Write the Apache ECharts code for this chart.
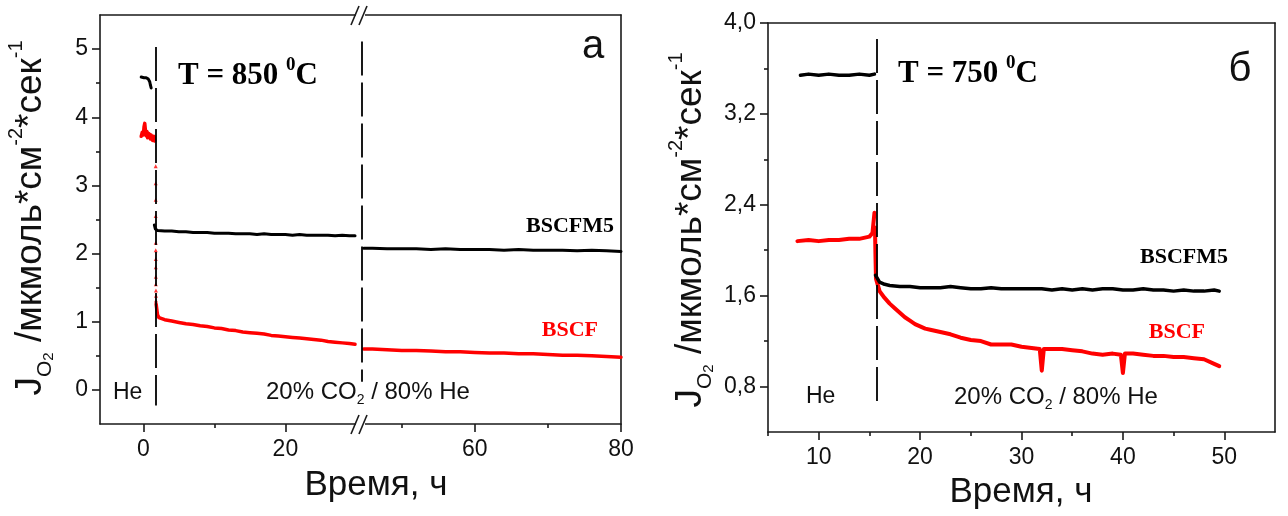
<!DOCTYPE html>
<html>
<head>
<meta charset="utf-8">
<script src="https://cdn.jsdelivr.net/npm/echarts@6/dist/echarts.min.js"></script>
<style>
  html, body { margin: 0; padding: 0; background: #ffffff; }
  #chart { width: 1288px; height: 516px; }
</style>
</head>
<body>
<div id="chart"></div>
<script>
// ---- Panel "а": oxygen flux at 850 °C, time axis broken between ~30 h and ~44 h ----
const x850Left = [-6.1, 30.5];
const x850Right = [44.3, 80];
const y850 = [-0.5, 5.5];
const x850LeftTicks = [0, 20];
const x850LeftMinor = [10];
const x850RightTicks = [60, 80];
const x850RightMinor = [50, 70];
const y850Ticks = [0, 1, 2, 3, 4, 5];
const y850Minor = [0.5, 1.5, 2.5, 3.5, 4.5];

const bscfm5_850_he = [[-0.3, 4.59], [0.1, 4.58], [0.4, 4.58], [0.7, 4.56], [0.9, 4.52], [1.0, 4.47], [1.1, 4.43]];
const bscfm5_850_a = [[1.55, 2.42], [1.7, 2.36], [2, 2.34], [3, 2.33], [4, 2.33], [5, 2.32], [6, 2.32], [7, 2.31],
  [8, 2.31], [9, 2.31], [10, 2.30], [11, 2.30], [12, 2.30], [13, 2.29], [14, 2.29], [15, 2.29], [16, 2.28],
  [17, 2.29], [18, 2.28], [19, 2.28], [20, 2.28], [21, 2.27], [22, 2.28], [23, 2.27], [24, 2.27], [25, 2.27],
  [26, 2.27], [27, 2.26], [28, 2.27], [29, 2.26], [29.8, 2.26]];
const bscfm5_850_b = [[44.8, 2.08], [46, 2.08], [48, 2.07], [50, 2.07], [52, 2.07], [54, 2.06], [56, 2.07],
  [58, 2.06], [60, 2.06], [62, 2.06], [64, 2.05], [66, 2.06], [68, 2.05], [70, 2.05], [72, 2.05], [74, 2.04],
  [76, 2.05], [78, 2.04], [80, 2.03]];

const bscf_850_he = [[-0.3, 3.72], [-0.15, 3.78], [0.0, 3.74], [0.1, 3.86], [0.2, 3.91], [0.3, 3.8], [0.4, 3.73],
  [0.5, 3.79], [0.6, 3.7], [0.8, 3.76], [1.0, 3.68], [1.1, 3.74], [1.3, 3.66], [1.5, 3.72], [1.6, 3.65]];
const bscf_850_drop = [[1.74, 3.28], [1.74, 3.03], [1.74, 2.79], [1.74, 2.55], [1.75, 2.16], [1.75, 2.05],
  [1.75, 1.92], [1.75, 1.8], [1.76, 1.66], [1.76, 1.55], [1.77, 1.46], [1.78, 1.38], [1.78, 1.31]];
const bscf_850_a = [[1.8, 1.26], [1.9, 1.18], [2.0, 1.1], [2.2, 1.06], [3, 1.03], [4, 1.01], [5, 0.99], [6, 0.97],
  [7, 0.96], [8, 0.94], [9, 0.93], [10, 0.91], [11, 0.90], [12, 0.88], [13, 0.87], [14, 0.85], [15, 0.84],
  [16, 0.83], [17, 0.82], [18, 0.80], [19, 0.79], [20, 0.78], [21, 0.77], [22, 0.76], [23, 0.75], [24, 0.74],
  [25, 0.73], [26, 0.71], [27, 0.70], [28, 0.69], [29, 0.68], [29.8, 0.67]];
const bscf_850_b = [[44.8, 0.60], [46, 0.60], [48, 0.59], [50, 0.58], [52, 0.58], [54, 0.57], [56, 0.56],
  [58, 0.56], [60, 0.55], [62, 0.54], [64, 0.54], [66, 0.53], [68, 0.53], [70, 0.52], [72, 0.51], [74, 0.51],
  [76, 0.50], [78, 0.49], [80, 0.48]];

// gas switch markers (time, top, bottom)
const switch850 = [1.73, 5.03, -0.23];
const restart850 = [44.55, 5.11, 0.12];

// ---- Panel "б": oxygen flux at 750 °C ----
const x750 = [5, 55];
const y750 = [0.4, 4.0];
const x750Ticks = [10, 20, 30, 40, 50];
const x750Minor = [5, 15, 25, 35, 45];
const y750Ticks = [0.8, 1.6, 2.4, 3.2, 4.0];
const y750Minor = [1.2, 2.0, 2.8, 3.6];

const bscfm5_750_he = [[8.2, 3.54], [9, 3.55], [10, 3.54], [11, 3.55], [12, 3.54], [13, 3.54], [14, 3.55],
  [15, 3.54], [15.5, 3.55]];
const bscfm5_750_co2 = [[15.6, 1.78], [16, 1.72], [16.5, 1.70], [17, 1.69], [18, 1.68], [19, 1.68], [20, 1.67],
  [21, 1.67], [22, 1.67], [23, 1.68], [24, 1.67], [25, 1.66], [26, 1.66], [27, 1.67], [28, 1.66], [29, 1.66],
  [30, 1.66], [31, 1.66], [32, 1.66], [33, 1.65], [34, 1.66], [35, 1.65], [36, 1.66], [37, 1.65], [38, 1.66],
  [39, 1.66], [40, 1.65], [41, 1.65], [42, 1.66], [43, 1.65], [44, 1.65], [45, 1.64], [46, 1.65], [47, 1.64],
  [48, 1.64], [49, 1.65], [49.5, 1.64]];
const bscf_750_he = [[7.9, 2.08], [9, 2.09], [10, 2.08], [11, 2.09], [12, 2.09], [13, 2.10], [14, 2.10],
  [15, 2.12], [15.3, 2.15], [15.5, 2.33]];
const bscf_750_co2 = [[15.55, 2.2], [15.6, 1.95], [15.65, 1.75], [16, 1.64], [16.5, 1.58], [17, 1.53],
  [17.5, 1.49], [18, 1.45], [18.5, 1.41], [19, 1.38], [19.5, 1.35], [20, 1.33], [20.5, 1.31], [21, 1.30],
  [22, 1.28], [23, 1.26], [24, 1.23], [25, 1.21], [26, 1.20], [27, 1.17], [28, 1.17], [29, 1.17], [30, 1.15],
  [31, 1.14], [31.8, 1.13], [32, 0.94], [32.2, 1.13], [33, 1.13], [34, 1.13], [35, 1.12], [36, 1.11],
  [37, 1.09], [38, 1.08], [39, 1.09], [39.8, 1.08], [40, 0.92], [40.2, 1.09], [41, 1.09], [42, 1.08],
  [43, 1.07], [44, 1.07], [45, 1.06], [46, 1.06], [47, 1.05], [48, 1.04], [49, 1.00], [49.5, 0.98]];

const switch750 = [15.7, 3.86, 0.66];

// ---- styling ----
const SANS = "'Liberation Sans', Arial, sans-serif";
const SERIF = "'Liberation Serif', 'Times New Roman', serif";
const AX = '#1a1a1a';
const RED = '#ff0000';
const BLACK = '#000000';
const TICK_FONT = 23;
const fmtComma = v => Number(v).toFixed(1).replace('.', ',');

function xAxesFor(gi, range, majors, minors, labelFmt) {
  const base = { gridIndex: gi, type: 'value', min: range[0], max: range[1], splitLine: { show: false } };
  return [
    Object.assign({}, base, {
      position: 'bottom',
      axisLine: { show: true, onZero: false, lineStyle: { color: AX, width: 1.6 } },
      axisTick: { show: true, customValues: majors, length: 8, lineStyle: { color: AX, width: 1.6 } },
      axisLabel: { show: true, customValues: majors, margin: 14, color: '#111', fontSize: TICK_FONT,
        fontFamily: SANS, formatter: labelFmt }
    }),
    Object.assign({}, base, {
      position: 'bottom',
      axisLine: { show: false, onZero: false },
      axisTick: { show: true, customValues: minors, length: 4, lineStyle: { color: AX, width: 1.6 } },
      axisLabel: { show: false }
    }),
    Object.assign({}, base, {
      position: 'top',
      axisLine: { show: true, onZero: false, lineStyle: { color: AX, width: 1.6 } },
      axisTick: { show: false }, axisLabel: { show: false }
    })
  ];
}

function yAxesFor(gi, range, majors, minors, labelFmt, withLeft) {
  const base = { gridIndex: gi, type: 'value', min: range[0], max: range[1], splitLine: { show: false } };
  const out = [];
  if (withLeft) {
    out.push(Object.assign({}, base, {
      position: 'left',
      axisLine: { show: true, onZero: false, lineStyle: { color: AX, width: 1.6 } },
      axisTick: { show: true, customValues: majors, length: 8, lineStyle: { color: AX, width: 1.6 } },
      axisLabel: { show: true, customValues: majors, margin: 12, color: '#111', fontSize: TICK_FONT,
        fontFamily: SANS, formatter: labelFmt }
    }));
    out.push(Object.assign({}, base, {
      position: 'left',
      axisLine: { show: false, onZero: false },
      axisTick: { show: true, customValues: minors, length: 4, lineStyle: { color: AX, width: 1.6 } },
      axisLabel: { show: false }
    }));
  }
  out.push(Object.assign({}, base, {
    position: 'right',
    axisLine: { show: true, onZero: false, lineStyle: { color: AX, width: 1.6 } },
    axisTick: { show: false }, axisLabel: { show: false }
  }));
  return out;
}

const xAxis = [].concat(
  xAxesFor(0, x850Left, x850LeftTicks, x850LeftMinor),      // 0..2
  xAxesFor(1, x850Right, x850RightTicks, x850RightMinor),   // 3..5
  xAxesFor(2, x750, x750Ticks, x750Minor)                   // 6..8
);
const yAxis = [].concat(
  yAxesFor(0, y850, y850Ticks, y850Minor, null, true).slice(0, 2),   // 0,1 (left only)
  yAxesFor(1, y850, [], [], null, false),                           // 2 (right frame)
  yAxesFor(2, y750, y750Ticks, y750Minor, fmtComma, true)           // 3,4,5
);

function line(data, color, width, xi, yi, extra) {
  return Object.assign({
    type: 'line', data: data, xAxisIndex: xi, yAxisIndex: yi,
    showSymbol: false, symbol: 'none', silent: true, animation: false,
    lineStyle: { color: color, width: width, join: 'round', cap: 'round' },
    itemStyle: { color: color }
  }, extra || {});
}

function marker(m) {
  return {
    silent: true, symbol: ['none', 'none'], animation: false,
    label: { show: false },
    lineStyle: { color: BLACK, width: 1.8, type: [34, 7] },
    data: [[{ coord: [m[0], m[1]] }, { coord: [m[0], m[2]] }]]
  };
}

const series = [
  line(bscf_850_he, RED, 3.5, 0, 0),
  line(bscf_850_a, RED, 3.5, 0, 0),
  { type: 'scatter', data: bscf_850_drop, xAxisIndex: 0, yAxisIndex: 0, symbol: 'triangle',
    symbolSize: 4, silent: true, animation: false, itemStyle: { color: RED } },
  line(bscfm5_850_he, BLACK, 3, 0, 0),
  line(bscfm5_850_a, BLACK, 3, 0, 0, { markLine: marker(switch850) }),
  line(bscf_850_b, RED, 3.5, 3, 2),
  line(bscfm5_850_b, BLACK, 3, 3, 2, { markLine: marker(restart850) }),
  line(bscf_750_he, RED, 4, 6, 3),
  line(bscf_750_co2, RED, 4, 6, 3),
  line(bscfm5_750_he, BLACK, 3.5, 6, 3),
  line(bscfm5_750_co2, BLACK, 3.5, 6, 3, { markLine: marker(switch750) })
];

// text helpers (annotations, titles)
function txt(x, y, text, opts) {
  const o = opts || {};
  return {
    type: 'text', x: x, y: y, rotation: o.rotation || 0, silent: true, z: 100,
    style: {
      text: text,
      fill: o.fill || '#111',
      font: o.font,
      align: o.align || 'left', textAlign: o.align || 'left',
      verticalAlign: 'middle', textVerticalAlign: 'middle',
      rich: o.rich
    }
  };
}

const sansRich = (size, fill) => ({
  m: { fontFamily: SANS, fontSize: size, fill: fill, lineHeight: size * 1.3, verticalAlign: 'middle' },
  sub: { fontFamily: SANS, fontSize: Math.round(size * 0.58), fill: fill, lineHeight: size * 1.3, verticalAlign: 'bottom' },
  sub2: { fontFamily: SANS, fontSize: Math.round(size * 0.4), fill: fill, lineHeight: size * 1.2, verticalAlign: 'bottom' },
  sup: { fontFamily: SANS, fontSize: Math.round(size * 0.55), fill: fill, lineHeight: size * 1.35, verticalAlign: 'top' }
});
const serifRich = (size, fill) => ({
  m: { fontFamily: SERIF, fontWeight: 'bold', fontSize: size, fill: fill, lineHeight: size * 1.2, verticalAlign: 'middle' },
  sup: { fontFamily: SERIF, fontWeight: 'bold', fontSize: Math.round(size * 0.6), fill: fill, lineHeight: size * 1.3, verticalAlign: 'top' }
});

const yTitle = '{m|J}{sub|O}{sub2|2}{m| /мкмоль*см}{sup|-2}{m|*сек}{sup|-1}';
const gasLabel = '{m|20% CO}{sub|2}{m| / 80% He}';

function breakMark(x, y) {
  return [
    { type: 'rect', shape: { x: x - 5, y: y - 3, width: 9, height: 6 }, style: { fill: '#ffffff' }, z: 90, silent: true },
    { type: 'line', shape: { x1: x - 10, y1: y + 10, x2: x - 2, y2: y - 9 }, style: { stroke: AX, lineWidth: 1.6 }, z: 91, silent: true },
    { type: 'line', shape: { x1: x - 2, y1: y + 10, x2: x + 6, y2: y - 9 }, style: { stroke: AX, lineWidth: 1.6 }, z: 91, silent: true }
  ];
}

const graphic = [].concat(
  breakMark(361, 15),
  breakMark(361, 424),
  [
    // panel а
    txt(178, 76, '{m|T = 850 }{sup|0}{m|C}', { rich: serifRich(31, '#000') }),
    txt(593, 47, 'а', { font: '40px ' + SANS, align: 'center' }),
    txt(614, 226, 'BSCFM5', { font: 'bold 22px ' + SERIF, align: 'right', fill: '#000' }),
    txt(598, 330, 'BSCF', { font: 'bold 22px ' + SERIF, align: 'right', fill: RED }),
    txt(113, 393, 'He', { font: '23px ' + SANS }),
    txt(266, 392, gasLabel, { rich: sansRich(24, '#111') }),
    txt(376, 485, 'Время, ч', { font: '35px ' + SANS, align: 'center' }),
    txt(31, 218, yTitle, { rich: sansRich(37, '#111'), align: 'center', rotation: Math.PI / 2 }),
    // panel б
    txt(898, 74, '{m|T = 750 }{sup|0}{m|C}', { rich: serifRich(31, '#000') }),
    txt(1240, 70, 'б', { font: '40px ' + SANS, align: 'center' }),
    txt(1228, 257, 'BSCFM5', { font: 'bold 22px ' + SERIF, align: 'right', fill: '#000' }),
    txt(1205, 332, 'BSCF', { font: 'bold 22px ' + SERIF, align: 'right', fill: RED }),
    txt(806, 397, 'He', { font: '23px ' + SANS }),
    txt(954, 397, gasLabel, { rich: sansRich(24, '#111') }),
    txt(1021, 492, 'Время, ч', { font: '35px ' + SANS, align: 'center' }),
    txt(691, 230, yTitle, { rich: sansRich(37, '#111'), align: 'center', rotation: Math.PI / 2 })
  ]
);

const chart = echarts.init(document.getElementById('chart'), null, { renderer: 'canvas' });
chart.setOption({
  backgroundColor: '#ffffff',
  animation: false,
  grid: [
    { left: 100, top: 15, width: 260, height: 409 },
    { left: 360, top: 15, width: 261, height: 409 },
    { left: 768, top: 23, width: 507, height: 409 }
  ],
  xAxis: xAxis,
  yAxis: yAxis,
  series: series,
  graphic: graphic
});
</script>
</body>
</html>
